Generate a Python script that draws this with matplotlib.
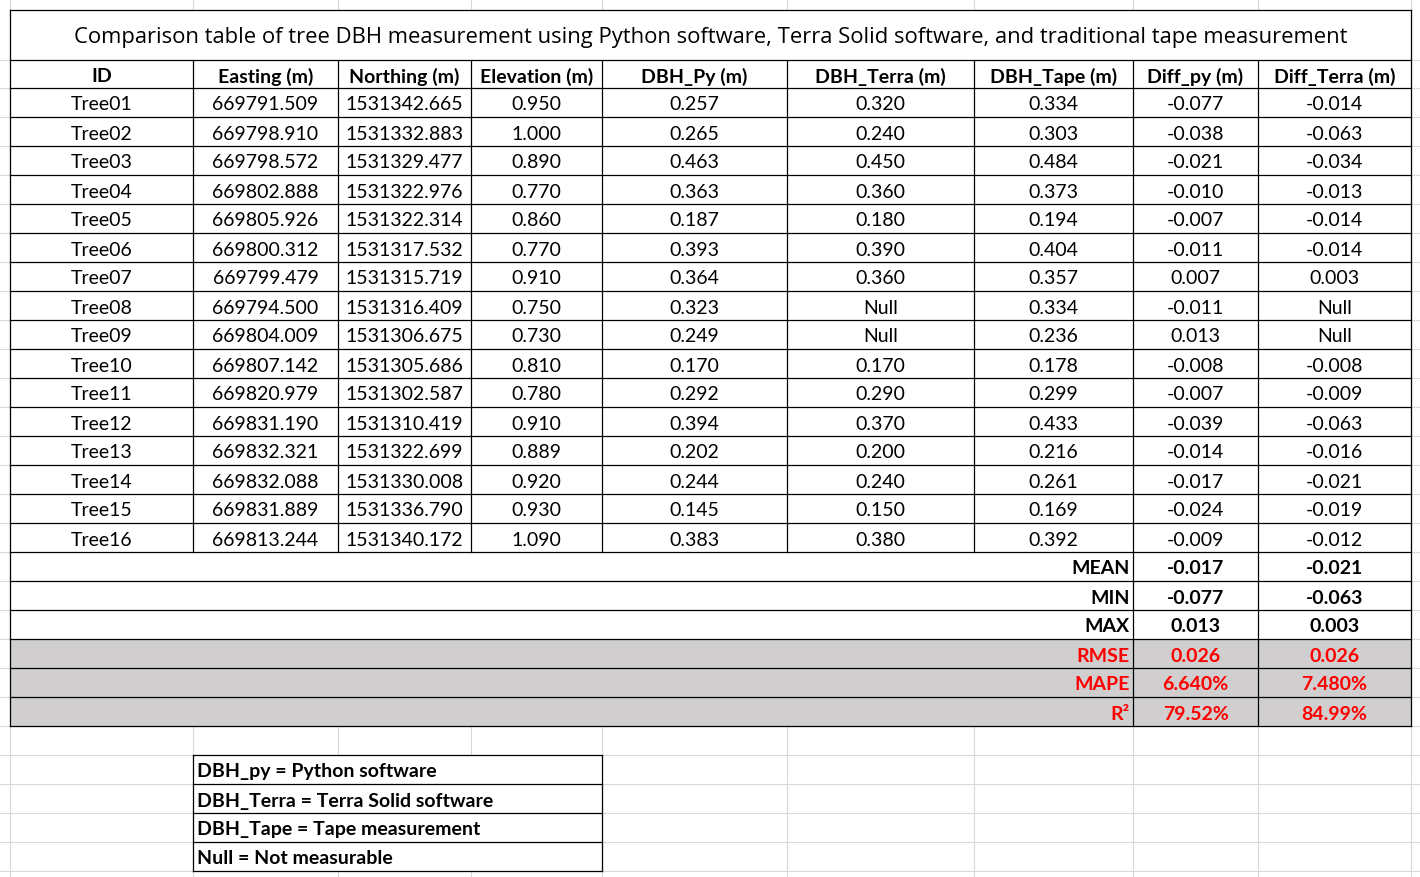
import matplotlib
matplotlib.use("Agg")
import matplotlib.pyplot as plt

plt.rcParams["font.family"] = ["Lato", "DejaVu Sans"]

title = "Comparison table of tree DBH measurement using Python software, Terra Solid software, and traditional tape measurement"
headers = ["ID", "Easting (m)", "Northing (m)", "Elevation (m)", "DBH_Py (m)",
           "DBH_Terra (m)", "DBH_Tape (m)", "Diff_py (m)", "Diff_Terra (m)"]
ids = [f"Tree{i:02d}" for i in range(1, 17)]
easting = ["669791.509", "669798.910", "669798.572", "669802.888", "669805.926", "669800.312",
           "669799.479", "669794.500", "669804.009", "669807.142", "669820.979", "669831.190",
           "669832.321", "669832.088", "669831.889", "669813.244"]
northing = ["1531342.665", "1531332.883", "1531329.477", "1531322.976", "1531322.314", "1531317.532",
            "1531315.719", "1531316.409", "1531306.675", "1531305.686", "1531302.587", "1531310.419",
            "1531322.699", "1531330.008", "1531336.790", "1531340.172"]
elevation = ["0.950", "1.000", "0.890", "0.770", "0.860", "0.770", "0.910", "0.750",
             "0.730", "0.810", "0.780", "0.910", "0.889", "0.920", "0.930", "1.090"]
dbh_py = ["0.257", "0.265", "0.463", "0.363", "0.187", "0.393", "0.364", "0.323",
          "0.249", "0.170", "0.292", "0.394", "0.202", "0.244", "0.145", "0.383"]
dbh_terra = ["0.320", "0.240", "0.450", "0.360", "0.180", "0.390", "0.360", "Null",
             "Null", "0.170", "0.290", "0.370", "0.200", "0.240", "0.150", "0.380"]
dbh_tape = ["0.334", "0.303", "0.484", "0.373", "0.194", "0.404", "0.357", "0.334",
            "0.236", "0.178", "0.299", "0.433", "0.216", "0.261", "0.169", "0.392"]
diff_py = ["-0.077", "-0.038", "-0.021", "-0.010", "-0.007", "-0.011", "0.007", "-0.011",
           "0.013", "-0.008", "-0.007", "-0.039", "-0.014", "-0.017", "-0.024", "-0.009"]
diff_terra = ["-0.014", "-0.063", "-0.034", "-0.013", "-0.014", "-0.014", "0.003", "Null",
              "Null", "-0.008", "-0.009", "-0.063", "-0.016", "-0.021", "-0.019", "-0.012"]
stat_labels = ["MEAN", "MIN", "MAX", "RMSE", "MAPE", "R²"]
stat_py = ["-0.017", "-0.077", "0.013", "0.026", "6.640%", "79.52%"]
stat_terra = ["-0.021", "-0.063", "0.003", "0.026", "7.480%", "84.99%"]
notes = ["DBH_py = Python software", "DBH_Terra = Terra Solid software",
         "DBH_Tape = Tape measurement", "Null = Not measurable"]

# layout in pixels
W, H = 1420, 877
xs = [10, 193, 338, 471, 602, 787, 974, 1133, 1258, 1411]
y_title, y_head = 10, 60
rh = 29
y_rows = 88
fs = 14
dy = 2.5  # text baseline nudge

fig = plt.figure(figsize=(W / 100, H / 100), dpi=100)
ax = fig.add_axes([0, 0, 1, 1])
ax.set_xlim(0, W)
ax.set_ylim(H, 0)
ax.axis("off")

# excel background grid
gridc = "#d9d9d9"
for x in xs:
    ax.plot([x, x], [0, H], color=gridc, lw=0.8, zorder=0)
y = y_head
while y < H:
    ax.plot([0, W], [y, y], color=gridc, lw=0.8, zorder=0)
    y += rh if y >= y_rows else (y_rows - y_head)

def hline(y, x0, x1):
    ax.plot([x0, x1], [y, y], color="black", lw=0.9, zorder=3)

def vline(x, y0, y1):
    ax.plot([x, x], [y0, y1], color="black", lw=0.9, zorder=3)

# title
ax.add_patch(plt.Rectangle((xs[0], y_title), xs[-1] - xs[0], y_head - y_title,
                           fc="white", ec="none", zorder=1))
ax.text((xs[0] + xs[-1]) / 2, (y_title + y_head) / 2 + 2, title, ha="center", va="center",
        fontsize=15.8, family=["Open Sans", "DejaVu Sans"], zorder=4)

cols = [ids, easting, northing, elevation, dbh_py, dbh_terra, dbh_tape, diff_py, diff_terra]
n = len(ids)
y_end = y_rows + n * rh
ax.add_patch(plt.Rectangle((xs[0], y_head), xs[-1] - xs[0], y_end - y_head,
                           fc="white", ec="none", zorder=1))
for j, h in enumerate(headers):
    ax.text((xs[j] + xs[j + 1]) / 2, (y_head + y_rows) / 2 + dy, h, ha="center", va="center",
            fontsize=fs, fontweight="bold", zorder=4)
for i in range(n):
    yc = y_rows + i * rh + rh / 2 + dy
    for j, col in enumerate(cols):
        ax.text((xs[j] + xs[j + 1]) / 2, yc, col[i], ha="center", va="center",
                fontsize=fs, zorder=4)

# stats rows
for k, lab in enumerate(stat_labels):
    y0 = y_end + k * rh
    red = k >= 3
    fc = "#d0cece" if red else "white"
    ax.add_patch(plt.Rectangle((xs[0], y0), xs[-1] - xs[0], rh, fc=fc, ec="none", zorder=1))
    color = "#ff0000" if red else "black"
    yc = y0 + rh / 2 + dy
    ax.text(xs[7] - 3, yc, lab, ha="right", va="center", fontsize=fs,
            fontweight="bold", color=color, zorder=4)
    ax.text((xs[7] + xs[8]) / 2, yc, stat_py[k], ha="center", va="center", fontsize=fs,
            fontweight="bold", color=color, zorder=4)
    ax.text((xs[8] + xs[9]) / 2, yc, stat_terra[k], ha="center", va="center", fontsize=fs,
            fontweight="bold", color=color, zorder=4)
y_stat_end = y_end + len(stat_labels) * rh

# borders
hline(y_title, xs[0], xs[-1])
hline(y_head, xs[0], xs[-1])
for i in range(n + 1):
    hline(y_rows + i * rh, xs[0], xs[-1])
for k in range(1, len(stat_labels) + 1):
    hline(y_end + k * rh, xs[0], xs[-1])
vline(xs[0], y_title, y_stat_end)
vline(xs[-1], y_title, y_stat_end)
for x in xs[1:-1]:
    vline(x, y_head, y_end)
for x in xs[7:9]:
    vline(x, y_end, y_stat_end)

# notes box
ny = 755
nx0, nx1 = xs[1], xs[4]
ax.add_patch(plt.Rectangle((nx0, ny), nx1 - nx0, len(notes) * rh, fc="white", ec="none", zorder=1))
for k, t in enumerate(notes):
    hline(ny + k * rh, nx0, nx1)
    ax.text(nx0 + 4, ny + k * rh + rh / 2 + dy, t, ha="left", va="center", fontsize=fs,
            fontweight="bold", zorder=4)
hline(ny + len(notes) * rh, nx0, nx1)
vline(nx0, ny, ny + len(notes) * rh)
vline(nx1, ny, ny + len(notes) * rh)

fig.savefig("out.png", dpi=100, facecolor="white")
